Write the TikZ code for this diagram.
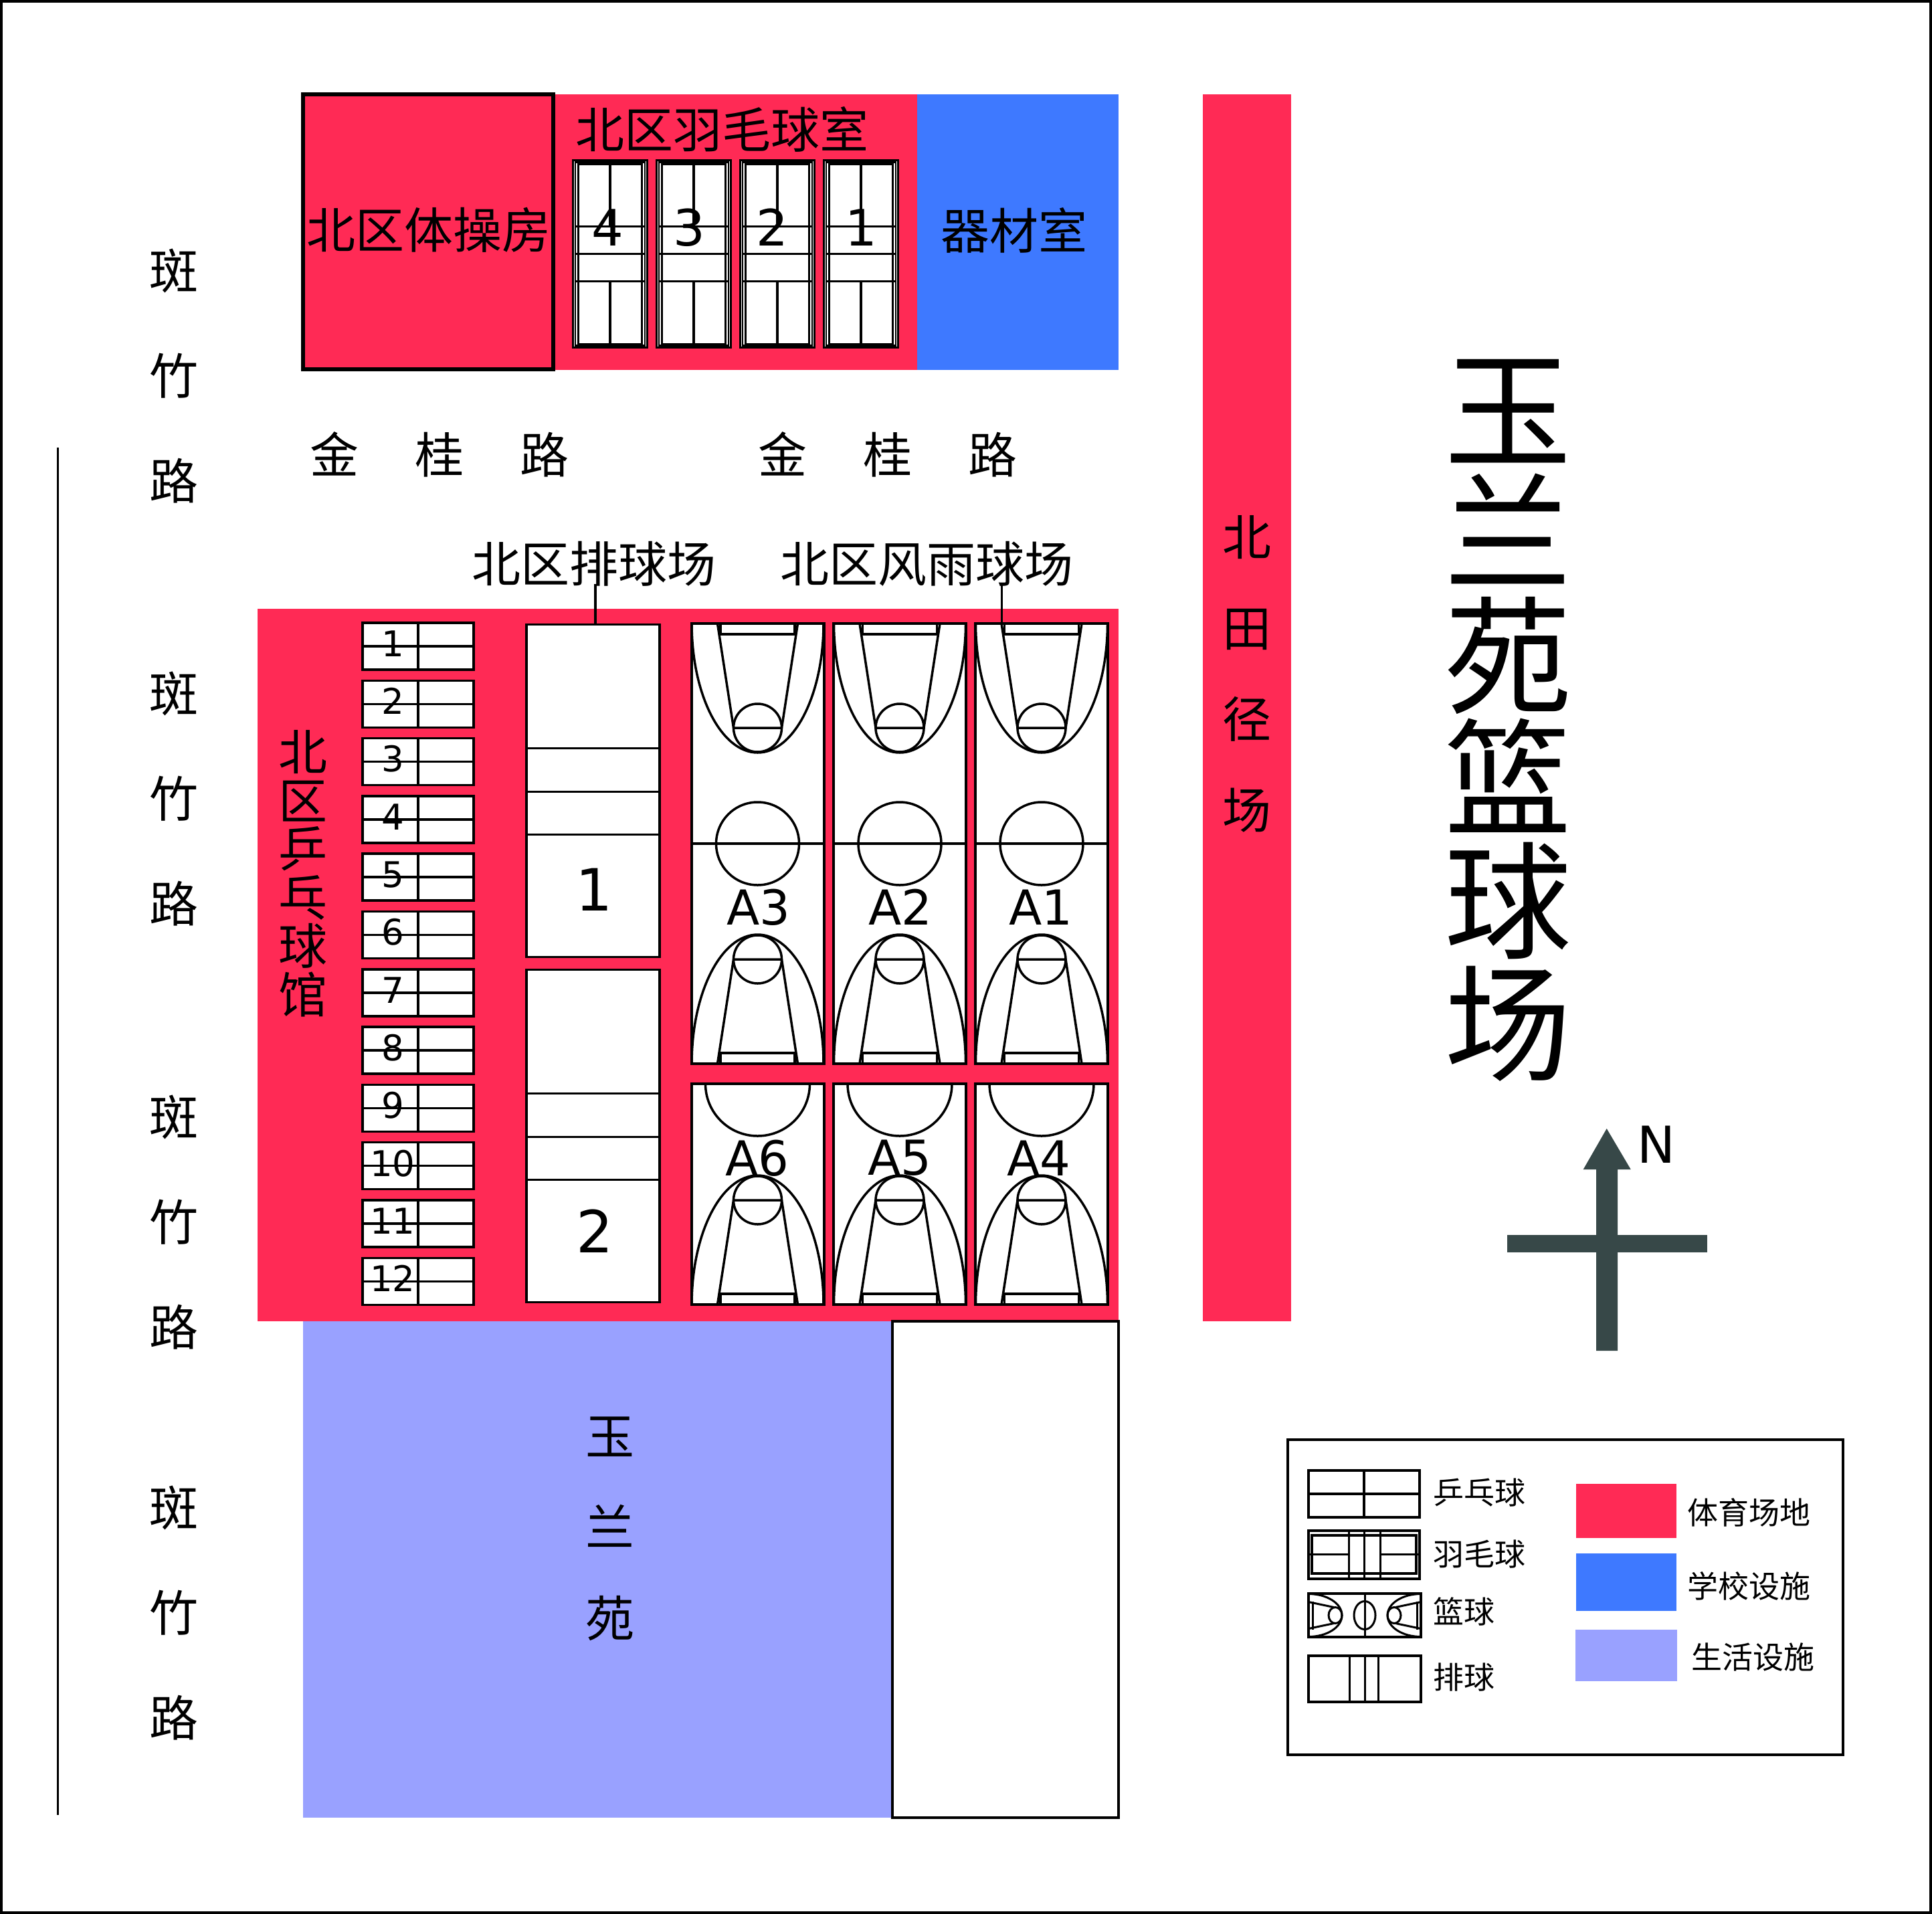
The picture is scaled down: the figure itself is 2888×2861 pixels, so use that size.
\documentclass[tikz,border=0pt]{standalone}
\usepackage{fontspec}
\setmainfont{DejaVu Sans}
\newfontfamily\cjk{Noto Sans CJK SC}
\usetikzlibrary{positioning}
\definecolor{sportred}{HTML}{FF2A55}
\definecolor{schoolblue}{HTML}{3E79FF}
\definecolor{lifepurple}{HTML}{99A1FF}
\definecolor{compassgrey}{HTML}{374848}
\newcommand{\fsz}[2]{\fontsize{#1}{#2}\selectfont}
\tikzset{
  x=1pt, y=-1pt,
  zone/.style={inner sep=0pt, outer sep=0pt},
  place/.style={font=\cjk\fsz{73}{73}, inner sep=0pt, align=center},
  keytext/.style={font=\cjk\fsz{46}{46}, inner sep=0pt, anchor=west},
  court/.style={draw=black, fill=white, line width=3.5pt, inner sep=0pt, outer sep=0pt},
  bcourt/.style={court, line width=4pt, minimum width=198pt},
  ttable/.style={court, minimum width=166pt, minimum height=70pt},
  vcourt/.style={court, minimum width=199pt, minimum height=497pt},
  pics/hoopend/.style={code={
    \draw[line width=3.5pt] (-98.5,0) arc[start angle=180, end angle=360, x radius=98.5pt, y radius=193pt];
    \draw[line width=3.5pt] (-60,0) -- (-36,156) -- (36,156) -- (60,0);
    \draw[line width=3.5pt] (0,156) circle (36pt);
    \draw[line width=3.5pt] (-55.5,0) -- (-55.5,16) -- (55.5,16) -- (55.5,0);
  }},
  pics/wingcourt/.style={code={
    \draw[line width=3.5pt, fill=white] (-55.5,0) rectangle (55.5,280);
    \draw[line width=2.2pt] (-52,3) rectangle (52,277);
    \draw[line width=3.5pt] (-47.5,6) rectangle (47.5,275);
    \draw[line width=3.5pt] (0,0) -- (0,99) (0,181) -- (0,280);
    \draw[line width=3.5pt] (-53,99) -- (53,99) (-53,140) -- (53,140) (-53,181) -- (53,181);
  }},
  pics/keyend/.style={code={
    \draw[line width=3pt] (0,-32) arc[start angle=90, end angle=-90, x radius=50pt, y radius=32pt];
    \draw[line width=3pt] (0,-20) -- (38,-12) (0,20) -- (38,12);
    \draw[line width=3pt] (6,-21) -- (6,21);
    \draw[line width=3pt] (40,0) ellipse (10pt and 12pt);
  }}
}
\begin{document}
\begin{tikzpicture}
\useasboundingbox (0,0) rectangle (2888,2861);
\fill[white] (0,0) rectangle (2888,2861);
\draw[line width=3.5pt] (2,2) rectangle (2886,2859);
\draw[line width=3.5pt] (86.6,669) -- (86.6,2713);

\fill[sportred] (830,141) rectangle (1371,553);
\fill[schoolblue] (1371,141) rectangle (1672,553);
\draw[line width=6pt, fill=sportred] (453,141) rectangle (827,552);
\fill[sportred] (385,910) rectangle (1672,1975);
\fill[sportred] (1798,141) rectangle (1930,1975);
\fill[lifepurple] (453,1975) rectangle (1334,2717);
\node[court, minimum width=338pt, minimum height=742pt] (spare) at (1503,2346) {};

\foreach \sy in {562,1194,1827,2411}
  \node[place, font=\cjk\fsz{73}{157}] (banzhu\sy) at (260,\sy) {斑\\竹\\路};
\foreach \sx in {657,1327}
  \node[place] (jingui\sx) at (\sx,679) {金\hspace{84pt}桂\hspace{84pt}路};

\node[place] (gymhall) at (641,344) {北区体操房};
\node[place] (badhall) at (1079,193) {北区羽毛球室};
\node[place] (storeroom) at (1516,344) {器材室};
\node[place, font=\cjk\fsz{73}{136}] (trackfield) at (1864,1007) {北\\田\\径\\场};
\node[place, font=\cjk\fsz{190}{183.5}] (sitename) at (2254,1077) {玉\\兰\\苑\\篮\\球\\场};
\node[place, font=\cjk\fsz{73}{72.5}] (pinghall) at (453,1306) {北\\区\\乒\\乓\\球\\馆};
\node[place, font=\cjk\fsz{73}{136}] (yulan) at (912,2285) {玉\\兰\\苑};
\node[place] (volleyhead) at (888,843) {北区排球场};
\node[place] (basketed) at (1385,843) {北区风雨球场};

\foreach \n/\cx/\lx in {4/912/908,3/1037/1030,2/1162/1154,1/1287/1287}{
  \pic at (\cx,239.5) {wingcourt};
  \node[inner sep=0pt, font=\fsz{75}{75}] (badnum\n) at (\lx,340) {\n};
}

\foreach \i in {1,...,12}{
  \pgfmathsetmacro{\ty}{966+(\i-1)*86.3}
  \node[ttable] (table\i) at (625,\ty) {};
  \draw[line width=3.5pt] (table\i.north) -- (table\i.south) (table\i.west) -- (table\i.east);
  \node[inner sep=0pt, font=\fsz{53}{53}] (tablenum\i) at (587,\ty-4) {\i};
}

\foreach \v/\vy/\vn in {a/1182/1,b/1698/2}{
  \node[vcourt] (vcourt\v) at (886.5,\vy) {};
  \foreach \d in {185,250,314}
    \draw[line width=3.5pt] (vcourt\v.north west) ++(0,\d) -- ++(199,0);
}
\node[inner sep=0pt, font=\fsz{87}{87}] (vnuma) at (888,1330) {1};
\node[inner sep=0pt, font=\fsz{87}{87}] (vnumb) at (889,1840) {2};

\foreach \n/\cx/\lx in {3/1132.5/1134,2/1345/1346,1/1557/1556}{
  \node[bcourt, minimum height=658pt] (court\n) at (\cx,1261) {};
  \pic at (\cx,932) {hoopend};
  \pic[yscale=-1] at (\cx,1590) {hoopend};
  \draw[line width=3.5pt] (court\n.west) -- (court\n.east);
  \draw[line width=3.5pt] (\cx,1261) circle (62pt);
  \node[inner sep=0pt, font=\fsz{72}{72}] (label\n) at (\lx,1356) {A\n};
}
\foreach \n/\cx/\lx in {6/1132.5/1132,5/1345/1345,4/1557/1553}{
  \node[bcourt, minimum height=330pt] (court\n) at (\cx,1785) {};
  \pic[yscale=-1] at (\cx,1950) {hoopend};
  \draw[line width=3.5pt] (\cx-78,1620) arc[start angle=180, end angle=360, radius=78pt];
  \node[inner sep=0pt, font=\fsz{72}{72}] (label\n) at (\lx,1731) {A\n};
}

\coordinate (volleylead) at (890,873);
\coordinate (basketlead) at (1497.7,873);
\draw[line width=3.5pt] (volleylead) -- (volleylead |- vcourta.north);
\draw[line width=3.5pt] (basketlead) -- (basketlead |- court1.north);

\fill[compassgrey] (2386,2019) -- (2386,1748) -- (2366.7,1748) -- (2401.7,1687) -- (2437.7,1748) -- (2418,1748) -- (2418,2019) -- cycle;
\fill[compassgrey] (2253,1846) rectangle (2552,1872);
\node[inner sep=0pt, font=\fsz{76}{76}] (north) at (2476,1711) {N};

\node[court, minimum width=830pt, minimum height=471pt] (keybox) at (2340,2387.5) {};
\node[court, minimum width=166pt, minimum height=70pt] (keytable) at (2039,2233) {};
\draw[line width=3.5pt] (keytable.north) -- (keytable.south) (keytable.west) -- (keytable.east);
\node[keytext] (keytabletext) at (2142,2231) {乒乓球};

\node[court, minimum width=166pt, minimum height=72pt] (keybad) at (2039,2324) {};
\draw[line width=4pt] (1961,2295) rectangle (2117,2352);
\draw[line width=3pt] (2016.5,2288) -- (2016.5,2360) (2039,2288) -- (2039,2360) (2063.6,2288) -- (2063.6,2360);
\draw[line width=3pt] (1958,2323) -- (2016.5,2323) (2063.6,2323) -- (2120,2323);
\node[keytext] (keybadtext) at (2142,2323) {羽毛球};

\node[court, minimum width=168pt, minimum height=65pt] (keybasket) at (2040,2414.5) {};
\draw[line width=3pt] (keybasket.north) -- (keybasket.south);
\draw[line width=3pt] (2040,2414.5) ellipse (16pt and 21pt);
\pic at (1956,2414.5) {keyend};
\pic[xscale=-1] at (2124,2414.5) {keyend};
\node[keytext] (keybaskettext) at (2142,2409) {篮球};

\node[court, minimum width=168pt, minimum height=69pt] (keyvolley) at (2040,2509.5) {};
\draw[line width=3pt] (2017.7,2475) -- (2017.7,2544) (keyvolley.north) -- (keyvolley.south) (2060.7,2475) -- (2060.7,2544);
\node[keytext] (keyvolleytext) at (2142,2507) {排球};

\node[zone, fill=sportred, minimum width=150pt, minimum height=81pt] (keysport) at (2431,2258.5) {};
\node[zone, fill=schoolblue, minimum width=150pt, minimum height=86pt] (keyschool) at (2431,2365) {};
\node[zone, fill=lifepurple, minimum width=152pt, minimum height=77pt] (keylife) at (2431,2474.5) {};
\node[keytext] (keysporttext) at (2522,2261) {体育场地};
\node[keytext] (keyschooltext) at (2522,2371) {学校设施};
\node[keytext] (keylifetext) at (2528,2477) {生活设施};
\end{tikzpicture}
\end{document}
